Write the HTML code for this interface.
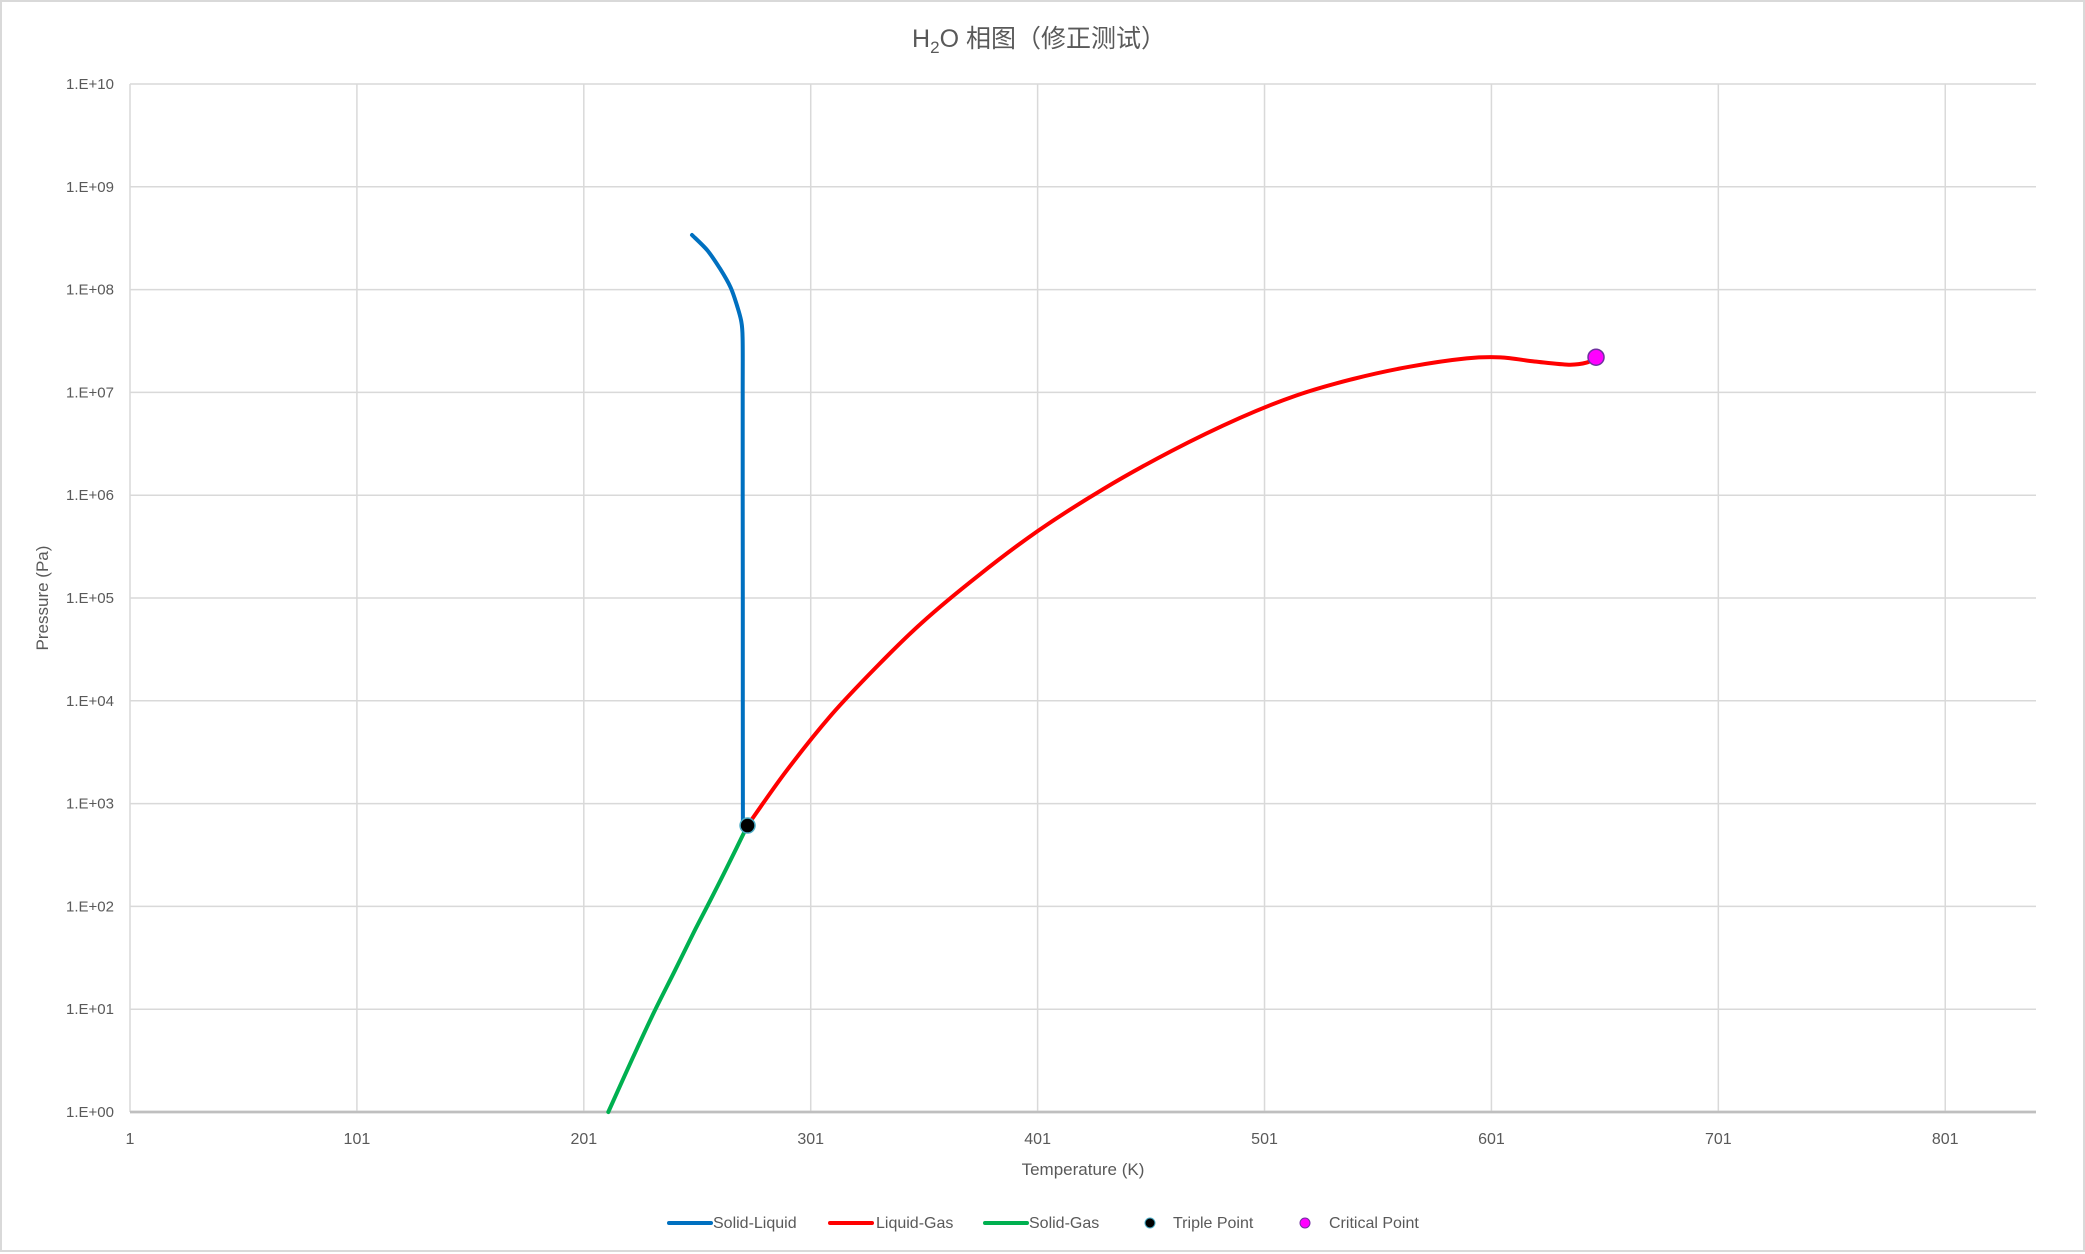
<!DOCTYPE html>
<html><head><meta charset="utf-8">
<style>
html,body{margin:0;padding:0;background:#fff;}
#chart{position:relative;width:2085px;height:1252px;box-sizing:border-box;border:2px solid #d9d9d9;background:#fff;}
svg{position:absolute;left:0;top:0;}
text{font-family:"Liberation Sans","Noto Sans CJK SC",sans-serif;fill:#595959;}
</style></head>
<body>
<div id="chart">
<svg id="svg" width="2085" height="1252"></svg>
</div>
<script>
const xTicks=[1,101,201,301,401,501,601,701,801];
const yTickExps=[0,1,2,3,4,5,6,7,8,9,10];
const yTickLabels=["1.E+00","1.E+01","1.E+02","1.E+03","1.E+04","1.E+05","1.E+06","1.E+07","1.E+08","1.E+09","1.E+10"];
const slT=[271.1,271.08,271.06,271.04,271.02,271.0,270.3,268.5,265.7,261,255.5,248.7];
const slP=[611.657,1e4,1e5,1e6,1e7,3.4e7,5e7,7e7,1.05e8,1.6e8,2.4e8,3.4e8];
const lgT=[273.16,290,310,330,350,375,401,430,460,490,515,540,565,590,605,620,635,643,647.1];
const lgP=[611.657,2042,7244,21380,57540,1.66e5,4.47e5,1.15e6,2.69e6,5.62e6,9.33e6,1.35e7,1.78e7,2.14e7,2.19e7,2.0e7,1.86e7,1.95e7,2.2e7];
const sgT=[211.8,222,231.7,241,249.3,257,265,273.16];
const sgP=[1,3.16,9.12,23.4,55,117.5,263,611.657];
const tripleT=[273.16], tripleP=[611.657];
const critT=[647.1], critP=[2.2e7];

const L=128,R=2034,T=82,B=1110,xMin=1,xMax=841;
const sx=v=>L+(v-xMin)/(xMax-xMin)*(R-L);
const sy=p=>B-Math.log10(p)/10*(B-T);
const syE=e=>B-e/10*(B-T);
const svg=document.getElementById('svg');
const NS='http://www.w3.org/2000/svg';
function mk(tag,attrs,parent){const e=document.createElementNS(NS,tag);for(const k in attrs)e.setAttribute(k,attrs[k]);(parent||svg).appendChild(e);return e;}

yTickExps.forEach((e,i)=>{
 const g=mk('line',{x1:L,x2:R,y1:syE(e),y2:syE(e),stroke:e===0?'#bfbfbf':'#d9d9d9','stroke-width':e===0?2.5:1.5});
 
 
 const t=mk('text',{x:112,y:syE(e)+5,'text-anchor':'end','font-size':15});
 t.textContent=yTickLabels[i];
 
 
});
xTicks.forEach(v=>{
 const g=mk('line',{x1:sx(v),x2:sx(v),y1:T,y2:B,stroke:'#d9d9d9','stroke-width':1.5});
 
 
 const t=mk('text',{x:sx(v),y:1142,'text-anchor':'middle','font-size':16});
 t.textContent=v;
 
 
});
mk('line',{x1:L,x2:R,y1:B,y2:B,stroke:'#bfbfbf','stroke-width':2.5});

function smoothPath(pts){
 let d='M'+pts[0][0].toFixed(1)+','+pts[0][1].toFixed(1);
 const k=0.16;
 for(let i=0;i<pts.length-1;i++){
  const p0=pts[Math.max(0,i-1)],p1=pts[i],p2=pts[i+1],p3=pts[Math.min(pts.length-1,i+2)];
  const c1=[p1[0]+(p2[0]-p0[0])*k,p1[1]+(p2[1]-p0[1])*k];
  const c2=[p2[0]-(p3[0]-p1[0])*k,p2[1]-(p3[1]-p1[1])*k];
  d+=' C'+c1.map(v=>v.toFixed(1)).join(',')+' '+c2.map(v=>v.toFixed(1)).join(',')+' '+p2.map(v=>v.toFixed(1)).join(',');
 }
 return d;
}
function series(Ts,Ps,color,name){
 const pts=Ts.map((t,i)=>[sx(t),sy(Ps[i])]);
 const p=mk('path',{d:smoothPath(pts),fill:'none',stroke:color,'stroke-width':4,'stroke-linejoin':'round','stroke-linecap':'round'});
 
 
}
series(sgT,sgP,'#00B050','solid-gas-line');
series(lgT,lgP,'#FF0000','liquid-gas-line');
series(slT,slP,'#0070C0','solid-liquid-line');
tripleT.forEach((t,i)=>{const c=mk('circle',{cx:sx(t),cy:sy(tripleP[i]),r:7.5,fill:'#000','stroke':'#4bacc6','stroke-width':1.5});
 
 });
critT.forEach((t,i)=>{const c=mk('circle',{cx:sx(t),cy:sy(critP[i]),r:8,fill:'#FF00FF','stroke':'#7030a0','stroke-width':1.5});
 
 });

const title=mk('text',{x:1037,y:45,'text-anchor':'middle','font-size':25});


title.innerHTML='H<tspan font-size="17" dy="6">2</tspan><tspan dy="-6">O 相图（修正测试）</tspan>';
const xt=mk('text',{x:1081,y:1173,'text-anchor':'middle','font-size':17});
xt.textContent='Temperature (K)';


const yt=mk('text',{x:0,y:0,'text-anchor':'middle','font-size':17,transform:'translate(46,596) rotate(-90)'});
yt.textContent='Pressure (Pa)';



const leg=[['line',667,'#0070C0','Solid-Liquid',711],['line',828,'#FF0000','Liquid-Gas',874],['line',983,'#00B050','Solid-Gas',1027],['dot',1148,'#000','Triple Point',1171],['dot',1303,'#FF00FF','Critical Point',1327]];
leg.forEach(l=>{
 const g=mk('g',{});
 
 
 if(l[0]==='line')mk('line',{x1:l[1],x2:l[1]+42,y1:1221,y2:1221,stroke:l[2],'stroke-width':4,'stroke-linecap':'round'},g);
 else mk('circle',{cx:l[1],cy:1221,r:5,fill:l[2],stroke:l[2]==='#000'?'#4bacc6':'#7030a0','stroke-width':1},g);
 const t=mk('text',{x:l[4],y:1226,'font-size':16},g);t.textContent=l[3];
});
</script>
</body></html>
